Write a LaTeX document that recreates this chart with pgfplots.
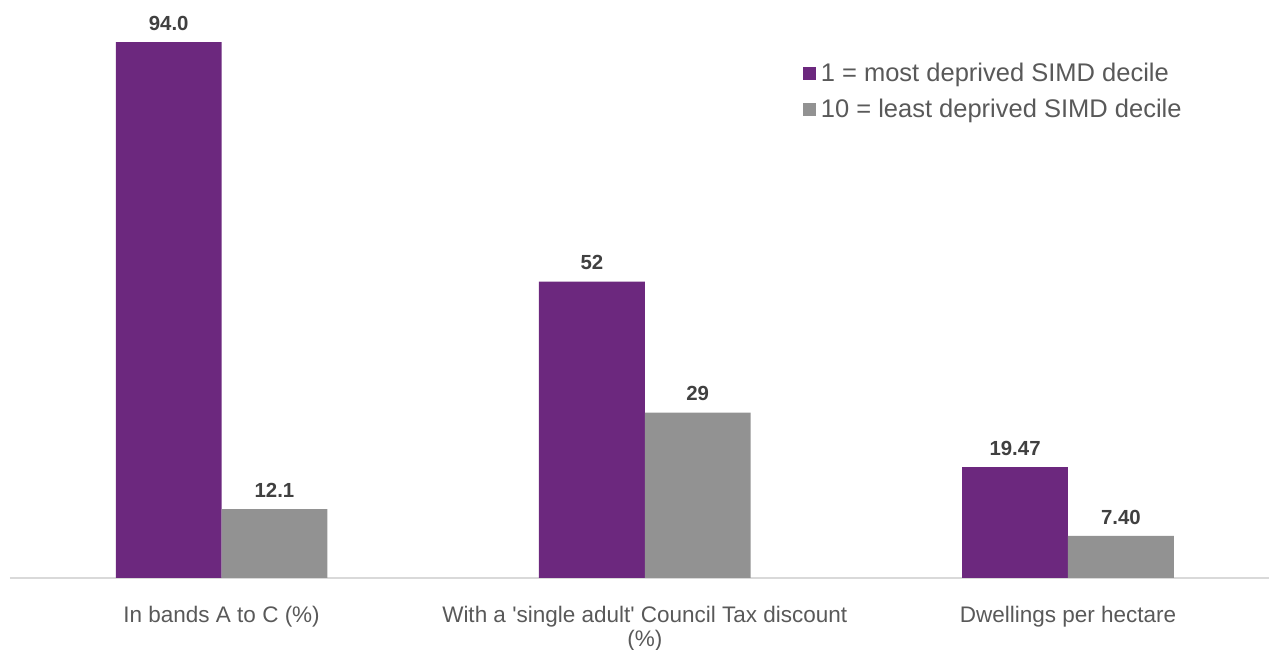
\documentclass[border=0pt]{standalone}
\usepackage{pgfplots}
\pgfplotsset{compat=1.18}
\usepackage{fontspec}
\setmainfont{Liberation Sans}
\definecolor{purp}{RGB}{108,40,126}
\definecolor{grayb}{RGB}{146,146,146}
\definecolor{txt}{RGB}{89,89,89}
\definecolor{vtxt}{RGB}{64,64,64}
\definecolor{axl}{RGB}{217,217,217}
\begin{document}
\begin{tikzpicture}
\path[use as bounding box] (-10pt,-72pt) rectangle (1259pt,578pt);
\begin{axis}[
  at={(0,0)}, anchor=south west,
  scale only axis, width=1259pt, height=570pt,
  xmin=-0.5, xmax=2.475, ymin=0, ymax=100,
  axis x line*=bottom, axis y line=none,
  x axis line style={draw=axl, line width=1.2pt, -},
  xtick={0,1,2},
  xticklabels={{In bands A to C (\%)},{With a \textquotesingle single adult\textquotesingle\ Council Tax discount\\(\%)},{Dwellings per hectare}},
  major tick length=0pt,
  xticklabel style={font=\fontsize{22.5}{23.5}\selectfont, text=txt, align=center, yshift=-25pt},
  ytick=\empty,
  ybar, bar width=0.25,
  point meta=explicit symbolic,
  nodes near coords,
  nodes near coords style={font=\fontsize{20.4}{24}\selectfont\bfseries, text=vtxt, yshift=8pt},
  legend style={at={(0.6296,0.907)}, anchor=north west, draw=none, fill=none,
    font=\fontsize{25.5}{29}\selectfont, text=txt, row sep=12pt, inner sep=0pt},
  legend cell align=left,
  legend image code/.code={\fill[#1] (0pt,-6.5pt) rectangle (13pt,6.5pt); \path (16pt,0pt);},
]
\addplot[fill=purp, draw=none, bar shift=-0.125] coordinates {(0,94.0) [94.0] (1,52) [52] (2,19.47) [19.47]};
\addplot[fill=grayb, draw=none, bar shift=0.125] coordinates {(0,12.1) [12.1] (1,29) [29] (2,7.40) [7.40]};
\legend{1 = most deprived SIMD decile, 10 = least deprived SIMD decile}
\end{axis}
\end{tikzpicture}
\end{document}
